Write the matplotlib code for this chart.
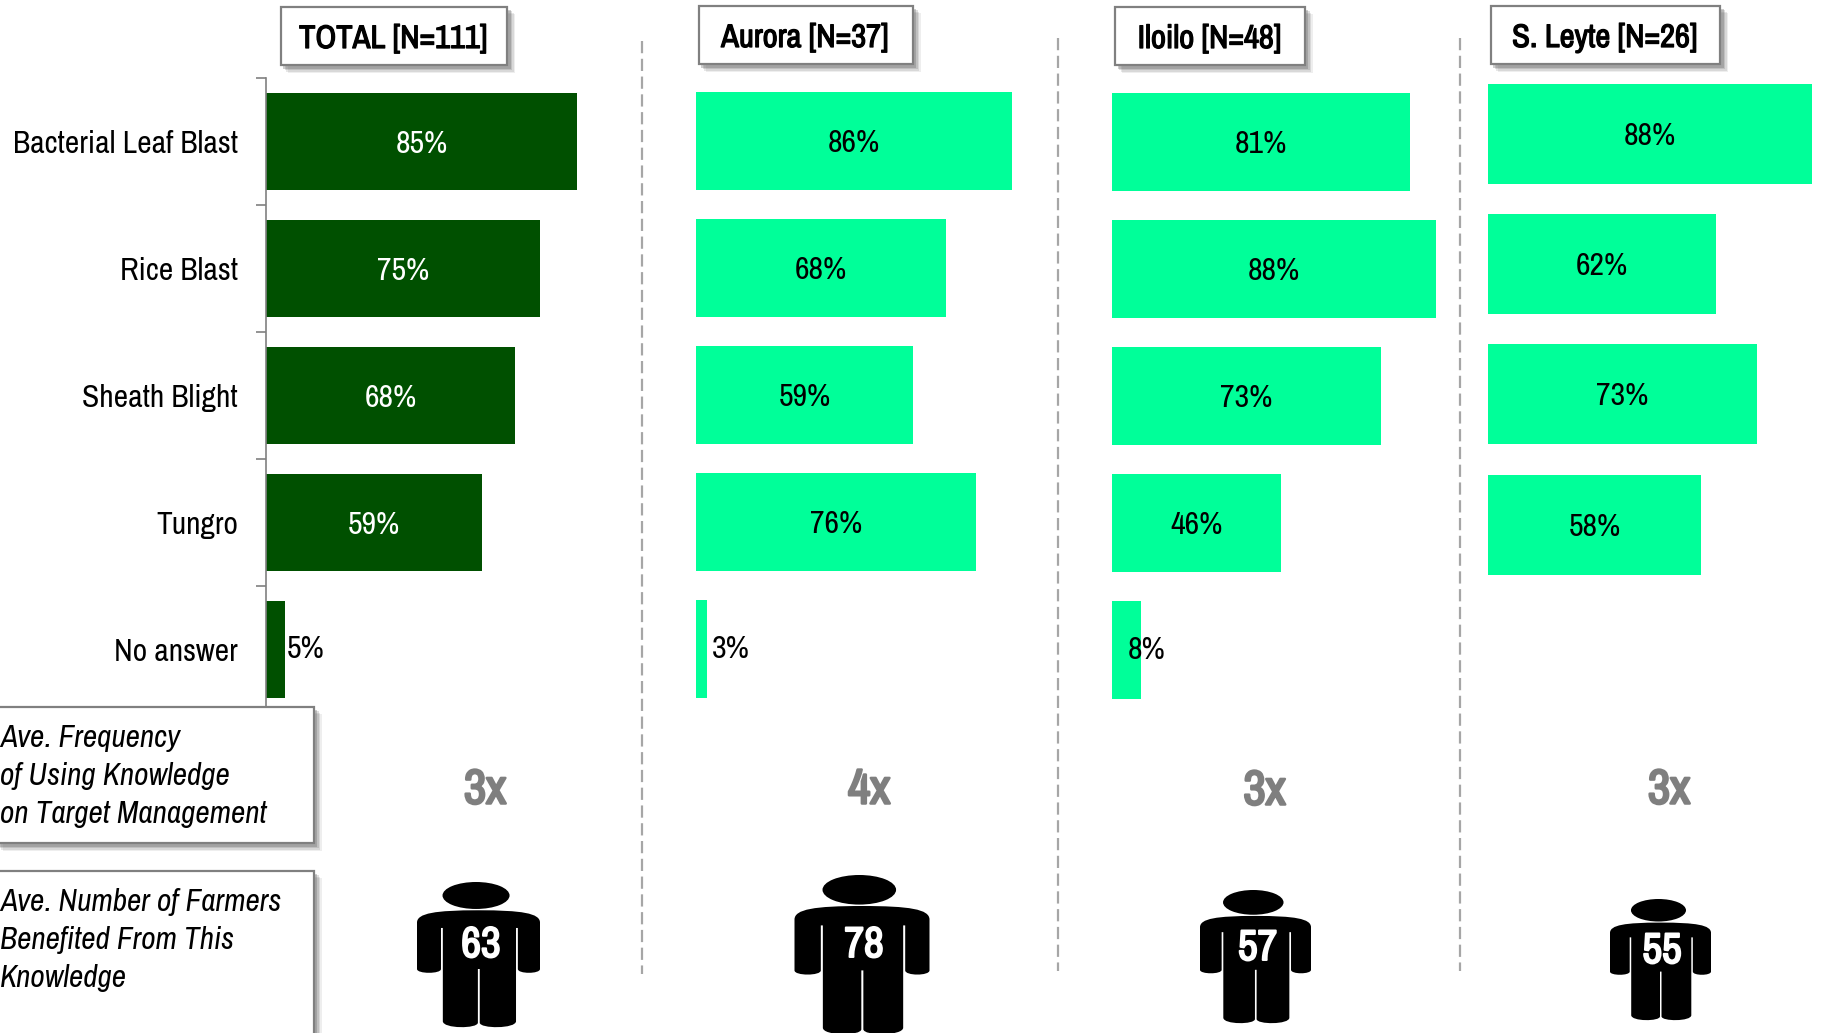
import numpy as np
import matplotlib
matplotlib.use("Agg")
import matplotlib.pyplot as plt
import matplotlib.patheffects as pe
from matplotlib.path import Path
from matplotlib.patches import PathPatch, Ellipse, Rectangle

plt.rcParams['font.family'] = ['Archivo Narrow', 'Liberation Sans', 'DejaVu Sans']

categories = ["Bacterial Leaf Blast", "Rice Blast", "Sheath Blight", "Tungro", "No answer"]
panel_titles = ["TOTAL [N=111]", "Aurora [N=37]", "Iloilo [N=48]", "S. Leyte [N=26]"]
total_values = [85, 75, 68, 59, 5]
aurora_values = [86, 68, 59, 76, 3]
iloilo_values = [81, 88, 73, 46, 8]
leyte_values = [88, 62, 73, 58, None]
frequency_labels = ["3x", "4x", "3x", "3x"]
farmer_counts = ["63", "78", "57", "55"]
box_one_lines = ["Ave. Frequency", "of Using Knowledge", "on Target Management"]
box_two_lines = ["Ave. Number of Farmers", "Benefited From This", "Knowledge"]

W, H = 1824, 1033
DARK, BRIGHT = '#005000', '#00FF99'
GREY = '#808080'
fig = plt.figure(figsize=(W / 100, H / 100), dpi=100, facecolor='white')


def px_axes(x0, x1, y0, y1, z=1):
    return fig.add_axes([x0 / W, 1 - y1 / H, (x1 - x0) / W, (y1 - y0) / H], zorder=z)


def heavy(lw, color):
    return [pe.withStroke(linewidth=lw, foreground=color)]


# values, x0, px per percent, top, row height, colour, offset in px of outside labels
panels = [
    (total_values, 266.5, 3.65, 78, 127.0, DARK, 21),
    (aurora_values, 696, 3.68, 77.5, 127.0, BRIGHT, 24),
    (iloilo_values, 1112, 3.68, 78.5, 127.0, BRIGHT, 5),
    (leyte_values, 1488, 3.68, 68.6, 130.3, BRIGHT, 0),
]

for i, (vals, x0, ppp, top, rh, col, off) in enumerate(panels):
    ax = px_axes(x0, x0 + ppp * 92, top, top + rh * 5)
    ax.set_xlim(0, 92)
    ax.set_ylim(4.5, -0.5)
    ax.patch.set_alpha(0)
    for s in ax.spines.values():
        s.set_visible(False)
    ax.set_xticks([])
    ax.tick_params(axis='y', which='both', left=False, labelleft=False)
    for r, v in enumerate(vals):
        if v is None:
            continue
        ax.barh(r, v, height=0.768, color=col, linewidth=0)
        if v >= 10:
            ax.annotate(f"{v}%", (v / 2, r), xytext=(0, -1.5), textcoords='offset points',
                        ha='center', va='center', fontsize=23,
                        color='white' if col == DARK else 'black')
        else:
            ax.annotate(f"{v}%", (v, r), xytext=(off * 0.72, 0), textcoords='offset points',
                        ha='center', va='center', fontsize=23, color='black')
    if i == 0:
        ax.spines['left'].set_visible(True)
        ax.spines['left'].set_color(GREY)
        ax.spines['left'].set_linewidth(1.2)
        ax.set_yticks(np.arange(-0.5, 5, 1))
        ax.set_yticks(np.arange(5), labels=categories, minor=True)
        ax.tick_params(axis='y', which='major', left=True, length=7.5, width=1.2, color=GREY, labelleft=False)
        ax.tick_params(axis='y', which='minor', left=False, labelleft=True, pad=18.5, labelsize=22.7)

ov = fig.add_axes([0, 0, 1, 1], zorder=5)
ov.set_xlim(0, W)
ov.set_ylim(H, 0)
ov.axis('off')
ov.patch.set_alpha(0)


def box(x0, y0, x1, y1):
    for k, a in zip((8, 6.5, 5, 3.5), (0.10, 0.15, 0.2, 0.3)):
        ov.add_patch(Rectangle((x0 + k - 1, y0 + k - 1), x1 - x0 + 1, y1 - y0 + 1,
                               fc='#606060', ec='none', alpha=a, zorder=2))
    ov.add_patch(Rectangle((x0, y0), x1 - x0, y1 - y0, fc='white', ec=GREY, lw=1.6, zorder=3))


header_boxes = [(281, 7, 507.5, 65), (699, 6, 913, 64), (1115.5, 7, 1305, 65), (1491, 6, 1720.5, 64)]
for (x0, y0, x1, y1), t in zip(header_boxes, panel_titles):
    box(x0, y0, x1, y1)
    ov.text((x0 + x1) / 2 - 1, (y0 + y1) / 2 + 3, t, ha='center', va='center', fontsize=23.5,
            zorder=4, path_effects=heavy(0.9, 'black'))

for x, y0, y1 in [(642.5, 41, 974), (1058.5, 38, 971), (1460, 38, 971)]:
    ov.plot([x, x], [y0, y1], color='#a6a6a6', lw=1.6, ls=(0, (5.5, 2.5)), zorder=1)

box(-4, 707, 314, 843)
box(-4, 871, 314, 1060)
for lines, ys in [(box_one_lines, (737.5, 776, 814)), (box_two_lines, (901.5, 940, 978))]:
    for t, y in zip(lines, ys):
        ov.text(0, y, t, ha='left', va='center', fontsize=22.6, fontstyle='italic', zorder=4)

for (x, y), t in zip([(485, 790), (869, 790), (1264.5, 791), (1669, 790)], frequency_labels):
    ov.text(x, y, t, ha='center', va='center', fontsize=35, color='#7f7f7f', zorder=4,
            path_effects=heavy(1.8, '#7f7f7f'))

person_verts = [
    (0, .28), (0, .215), (.15, .195), (.5, .195), (.85, .195), (1, .215), (1, .28),
    (1, .60), (1, .635), (.82, .635), (.82, .60), (.82, .317), (.805, .317),
    (.805, .96), (.805, 1.013), (.51, 1.013), (.51, .97), (.51, .60), (.495, .60),
    (.495, .97), (.495, 1.013), (.21, 1.013), (.21, .96), (.21, .317), (.195, .317),
    (.195, .60), (.195, .635), (0, .635), (0, .60), (0, .28),
]
C, L = Path.CURVE4, Path.LINETO
person_codes = [Path.MOVETO, C, C, C, C, C, C, L, C, C, C, L, L, L, C, C, C, L, L, L, C, C, C, L, L, L, C, C, C,
                Path.CLOSEPOLY]
person_boxes = [(417, 540, 882, 1027), (794.5, 929.5, 875, 1034), (1200, 1311, 890, 1023), (1610, 1711, 899, 1020)]
number_pos = [(481, 945), (864, 945), (1257.5, 948), (1662, 951)]

for (x0, x1, y0, y1), (nx, ny), t in zip(person_boxes, number_pos, farmer_counts):
    w, h = x1 - x0, y1 - y0
    verts = [(x0 + u * w, y0 + v * h) for u, v in person_verts]
    ov.add_patch(PathPatch(Path(verts, person_codes), fc='black', ec='none', zorder=3))
    ov.add_patch(Ellipse((x0 + .48 * w, y0 + .093 * h), .545 * w, .186 * h, fc='black', ec='none', zorder=3))
    ov.text(nx, ny, t, ha='center', va='center', fontsize=31, color='white', zorder=4,
            path_effects=heavy(1.4, 'white'))

fig.savefig('out.png', dpi=100)
